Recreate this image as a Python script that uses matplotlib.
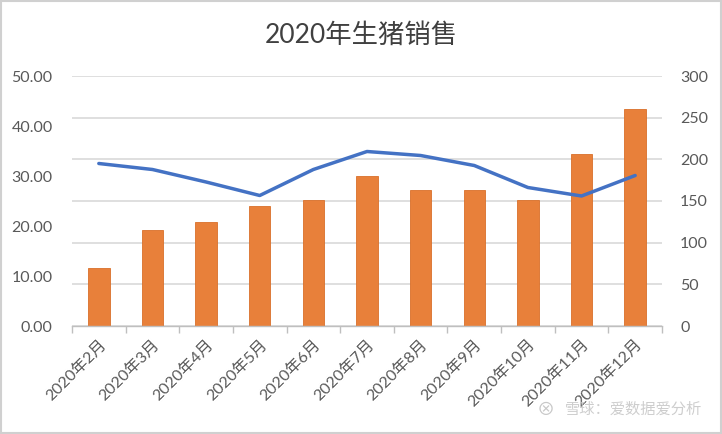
import matplotlib
matplotlib.use("Agg")
import matplotlib.pyplot as plt
from matplotlib.patches import Rectangle
import numpy as np

months = ["2020年2月", "2020年3月", "2020年4月", "2020年5月", "2020年6月", "2020年7月",
          "2020年8月", "2020年9月", "2020年10月", "2020年11月", "2020年12月"]
sales = [69.6, 115.2, 124.8, 144.0, 151.0, 180.0, 163.2, 163.2, 151.2, 206.4, 261.0]
price = [32.5, 31.3, 28.8, 26.1, 31.3, 34.9, 34.1, 32.1, 27.7, 26.0, 30.1]
left_ticks = [0, 10, 20, 30, 40, 50]
right_ticks = [0, 50, 100, 150, 200, 250, 300]

FONT = ['Lato', 'Noto Sans CJK SC', 'DejaVu Sans']
plt.rcParams['font.family'] = FONT

fig = plt.figure(figsize=(7.22, 4.34), dpi=100)
ax = fig.add_axes([72/722, 1-326/434, 590/722, 250/434])
ax2 = ax.twinx()

x = np.arange(len(months))
ax2.bar(x, sales, width=0.4, color='#E8803A', edgecolor='#D9702A', linewidth=0.6, zorder=3)
ax2.set_ylim(0, 300)
ax2.set_yticks(right_ticks)
ax2.yaxis.grid(True, color='#D9D9D9', linewidth=1.2, zorder=0)
ax2.set_axisbelow(True)

ax.plot(x, price, color='#4472C4', linewidth=2.5, solid_capstyle='round', solid_joinstyle='round', zorder=5)
ax.set_ylim(0, 50)
ax.set_yticks(left_ticks)
ax.set_yticklabels([f"{v:.2f}" for v in left_ticks])
ax.set_xlim(-0.5, len(months) - 0.5)

ax.set_zorder(ax2.get_zorder() + 1)
ax.patch.set_visible(False)

for a in (ax, ax2):
    for s in ('top', 'left', 'right'):
        a.spines[s].set_visible(False)
    a.spines['bottom'].set_color('#BFBFBF')
    a.spines['bottom'].set_linewidth(1.0)

ax.tick_params(axis='y', length=0, pad=14, labelsize=11.5, labelcolor='#595959')
ax2.tick_params(axis='y', length=0, pad=13, labelsize=11.5, labelcolor='#595959')
ax2.spines['bottom'].set_visible(False)

ax.set_xticks(x)
ax.set_xticklabels(months, rotation=45, ha='right', rotation_mode='anchor')
ax.set_xticks(np.arange(-0.5, len(months), 1.0), minor=True)
ax.tick_params(axis='x', which='major', length=0, pad=8, labelsize=11.5, labelcolor='#595959')
ax.tick_params(axis='x', which='minor', length=5, color='#BFBFBF', width=1.0)

fig.text(0.5, 1-35/434, "2020年生猪销售", ha='center', va='center', fontsize=19, color='#404040')

fig.text(702/722, 1-410/434, "雪球：爱数据爱分析", ha='right', va='center', fontsize=11,
         color='#C8C8C8', alpha=0.9)
fig.text(546/722, 1-410/434, "⊗", ha='center', va='center', fontsize=13, color='#C8C8C8')

fig.patches.append(Rectangle((0.002, 0.003), 0.996, 0.994, transform=fig.transFigure,
                             fill=False, edgecolor='#D0D0D0', linewidth=1.5))

fig.savefig("out.png", dpi=100)
